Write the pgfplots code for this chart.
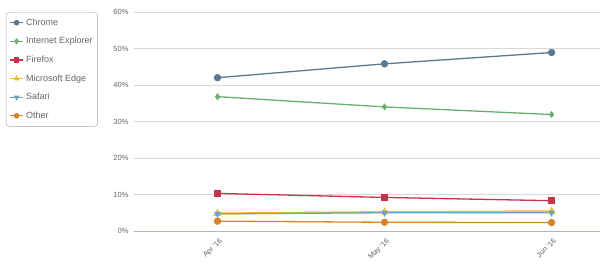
\documentclass[border=0pt]{standalone}
\usepackage{pgfplots}
\pgfplotsset{compat=1.18}
\usepackage{fontspec}
\setmainfont{Liberation Sans}
\definecolor{cChrome}{HTML}{5B7A91}
\definecolor{cIE}{HTML}{6BB06E}
\definecolor{cFF}{HTML}{C8334B}
\definecolor{cEdge}{HTML}{F0C233}
\definecolor{cSafari}{HTML}{6CA5B8}
\definecolor{cOther}{HTML}{D7842D}
\definecolor{gridc}{HTML}{D9D9D9}
\definecolor{txt}{HTML}{666666}
\begin{document}
\begin{tikzpicture}
\path[use as bounding box] (-134pt,-35pt) rectangle (466pt,231pt);
\begin{axis}[
  at={(0,0)}, anchor=south west,
  scale only axis, width=466pt, height=219pt,
  xmin=-0.5, xmax=2.29, ymin=0, ymax=60,
  axis line style={draw=none},
  xtick={0,1,2}, xticklabels={Apr '16,May '16,Jun '16},
  ytick={0,10,...,60},
  yticklabel={\pgfmathprintnumber{\tick}\%},
  /pgf/number format/assume math mode=true,
  tick style={draw=none},
  ymajorgrids, grid style={gridc, line width=0.9pt},
  tick label style={font=\fontsize{7.5}{9}\selectfont, text=txt},
  x tick label style={rotate=45, anchor=north east, yshift=-2pt},
  yticklabel style={xshift=-2pt},
  clip=false,
  legend style={at={(axis description cs:-0.2747,1)}, anchor=north west,
    draw=gray!70, rounded corners=3pt, font=\fontsize{9}{11}\selectfont, text=txt,
    row sep=6.6pt, inner xsep=3pt, inner ysep=4.5pt, cells={anchor=west},
    legend image code/.code={\draw[mark repeat=2,mark phase=2,line width=1.2pt,mark size=2.2pt]
      plot coordinates {(0cm,0cm) (0.24cm,0cm) (0.48cm,0cm)};}},
  legend cell align=left,
  every axis plot/.append style={line width=1.3pt},
]
\addplot[cChrome, mark=*, mark size=3pt] coordinates {(0,42.0) (1,45.8) (2,48.9)};
\addlegendentry{Chrome}
\addplot[cIE, mark=diamond*, mark size=2.5pt] coordinates {(0,36.8) (1,34.0) (2,31.9)};
\addlegendentry{Internet Explorer}
\addplot[cFF, mark=square*, mark size=2.8pt] coordinates {(0,10.3) (1,9.2) (2,8.3)};
\addlegendentry{Firefox}
\addplot[cEdge, mark=triangle*, mark size=2.8pt, line width=2pt] coordinates {(0,4.8) (1,5.2) (2,5.4)};
\addlegendentry{Microsoft Edge}
\addplot[cSafari, mark=triangle*, mark options={rotate=180}, mark size=2.8pt] coordinates {(0,4.7) (1,5.0) (2,5.0)};
\addlegendentry{Safari}
\addplot[cOther, mark=*, mark size=3pt] coordinates {(0,2.7) (1,2.4) (2,2.3)};
\addlegendentry{Other}
\draw[draw=gridc!80!blue, line width=0.9pt] (axis cs:-0.5,0) -- (axis cs:2.29,0);
\end{axis}
\end{tikzpicture}
\end{document}
